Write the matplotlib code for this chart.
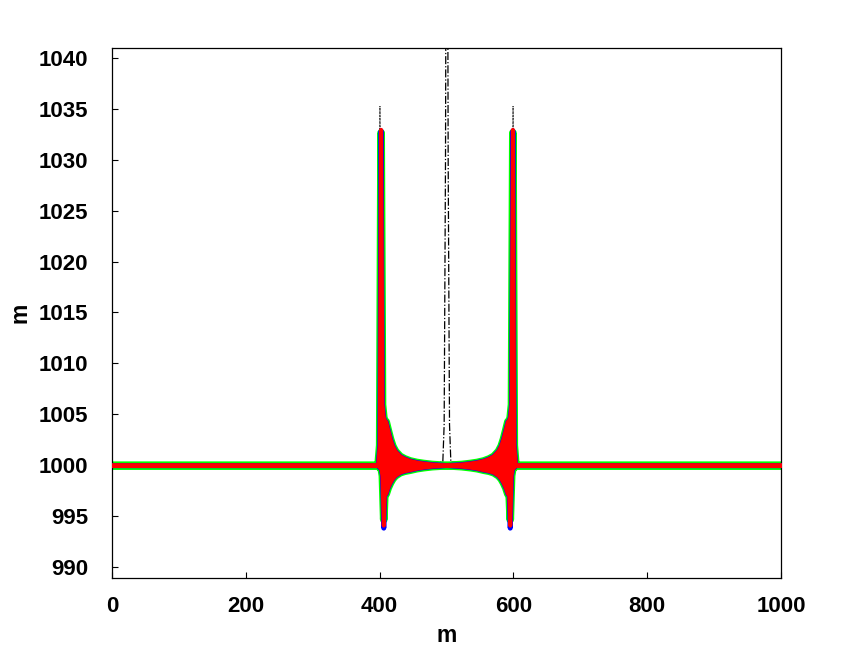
"""Two pulses leaving an initial bump at x=500: three numerical runs vs. exact."""
import matplotlib
matplotlib.use("Agg")
import matplotlib.pyplot as plt
import numpy as np

# envelope of the oscillating numerical solutions (centre-line values, m)
# "peak" / "dip" mark the spike tip and dip bottom, which differ per run
X_ENV = [0, 397, 399.5, 401.5, 403.5, 405.5, 407, 409, 412, 415.5, 419, 423,
         430, 437, 445, 455, 465, 478, 490, 500,
         510, 522, 535, 545, 555, 563, 570, 577, 581, 584.5, 588, 591, 593,
         594.5, 596.5, 598.5, 600.5, 603, 1000]
UPPER = [1000, 1000, 1002, "peak", 1006, 1004.7, 1004.4, 1004.3, 1003.5, 1002.6,
         1001.9, 1001.4, 1000.9, 1000.65, 1000.45, 1000.3, 1000.2, 1000.1,
         1000.05, 1000.0,
         1000.05, 1000.1, 1000.2, 1000.3, 1000.45, 1000.65, 1000.9, 1001.4,
         1001.9, 1002.6, 1003.5, 1004.3, 1004.4, 1004.7, 1006, "peak", 1002,
         1000, 1000]
LOWER = [1000, 1000, 999.8, 999.8, 999.0, "dip", 997.2, 997.2, 997.8, 998.3,
         998.7, 999.0, 999.3, 999.45, 999.55, 999.7, 999.8, 999.9, 999.95,
         1000.0,
         999.95, 999.9, 999.8, 999.7, 999.55, 999.45, 999.3, 999.0, 998.7,
         998.3, 997.8, 997.2, 997.2, "dip", 999.0, 999.8, 999.8, 1000, 1000]

RUNS = ["green", "blue", "red"]
RUN_COLORS = {"green": "#00ff00", "blue": "#0000ff", "red": "#ff0000"}
RUN_WIDTHS = {"green": 5.6, "blue": 3.6, "red": 2.9}
SPIKE_TOP = {"green": 1032.7, "blue": 1032.9, "red": 1033.0}
DIP_BOTTOM = {"green": 994.7, "blue": 993.85, "red": 994.1}

# exact solution at final time (dotted)
X_EXACT = [0, 399, 400.5, 402, 598, 599.5, 601, 1000]
Y_EXACT = [1000, 1000, 1035.3, 1000, 1000, 1035.3, 1000, 1000]

# initial condition (dash-dot)
X_INIT = [0, 494.5, 496.5, 498.5, 499.5, 500.5, 501.5, 502.5, 504.5, 506.5, 1000]
Y_INIT = [1000, 1000.3, 1004, 1030, 1058, 1070, 1058, 1030, 1004, 1000.3, 1000]

XTICKS = [0, 200, 400, 600, 800, 1000]
YTICKS = [990, 995, 1000, 1005, 1010, 1015, 1020, 1025, 1030, 1035, 1040]

plt.rcParams["font.family"] = ["Liberation Sans", "DejaVu Sans"]
plt.rcParams["font.weight"] = "bold"

fig = plt.figure(figsize=(8.63, 6.5), dpi=100)
ax = fig.add_axes([112 / 863, 1 - 578 / 650, 669 / 863, 530 / 650])

ax.plot(X_INIT, Y_INIT, color="black", linestyle="-.", linewidth=0.9, zorder=1)
ax.plot(X_EXACT, Y_EXACT, color="black", linestyle=":", linewidth=0.9, zorder=1)

for i, run in enumerate(RUNS):
    up = np.array([SPIKE_TOP[run] if v == "peak" else v for v in UPPER], float)
    lo = np.array([DIP_BOTTOM[run] if v == "dip" else v for v in LOWER], float)
    ax.fill_between(X_ENV, lo, up, facecolor=RUN_COLORS[run],
                    edgecolor=RUN_COLORS[run], linewidth=RUN_WIDTHS[run],
                    joinstyle="round", zorder=2 + i)

ax.set_xlim(0, 1000)
ax.set_ylim(988.9, 1041)
ax.set_xticks(XTICKS)
ax.set_yticks(YTICKS)
ax.tick_params(direction="in", length=4.3, width=0.8, labelsize=16)
ax.tick_params(axis="y", pad=17)
ax.tick_params(axis="x", pad=13)
for s in ax.spines.values():
    s.set_linewidth(0.9)

ax.set_xlabel("m", fontsize=16.5, fontweight="bold", labelpad=5)
ax.set_ylabel("m", fontsize=16.5, fontweight="bold", labelpad=5)

fig.savefig("out.png", dpi=100)
